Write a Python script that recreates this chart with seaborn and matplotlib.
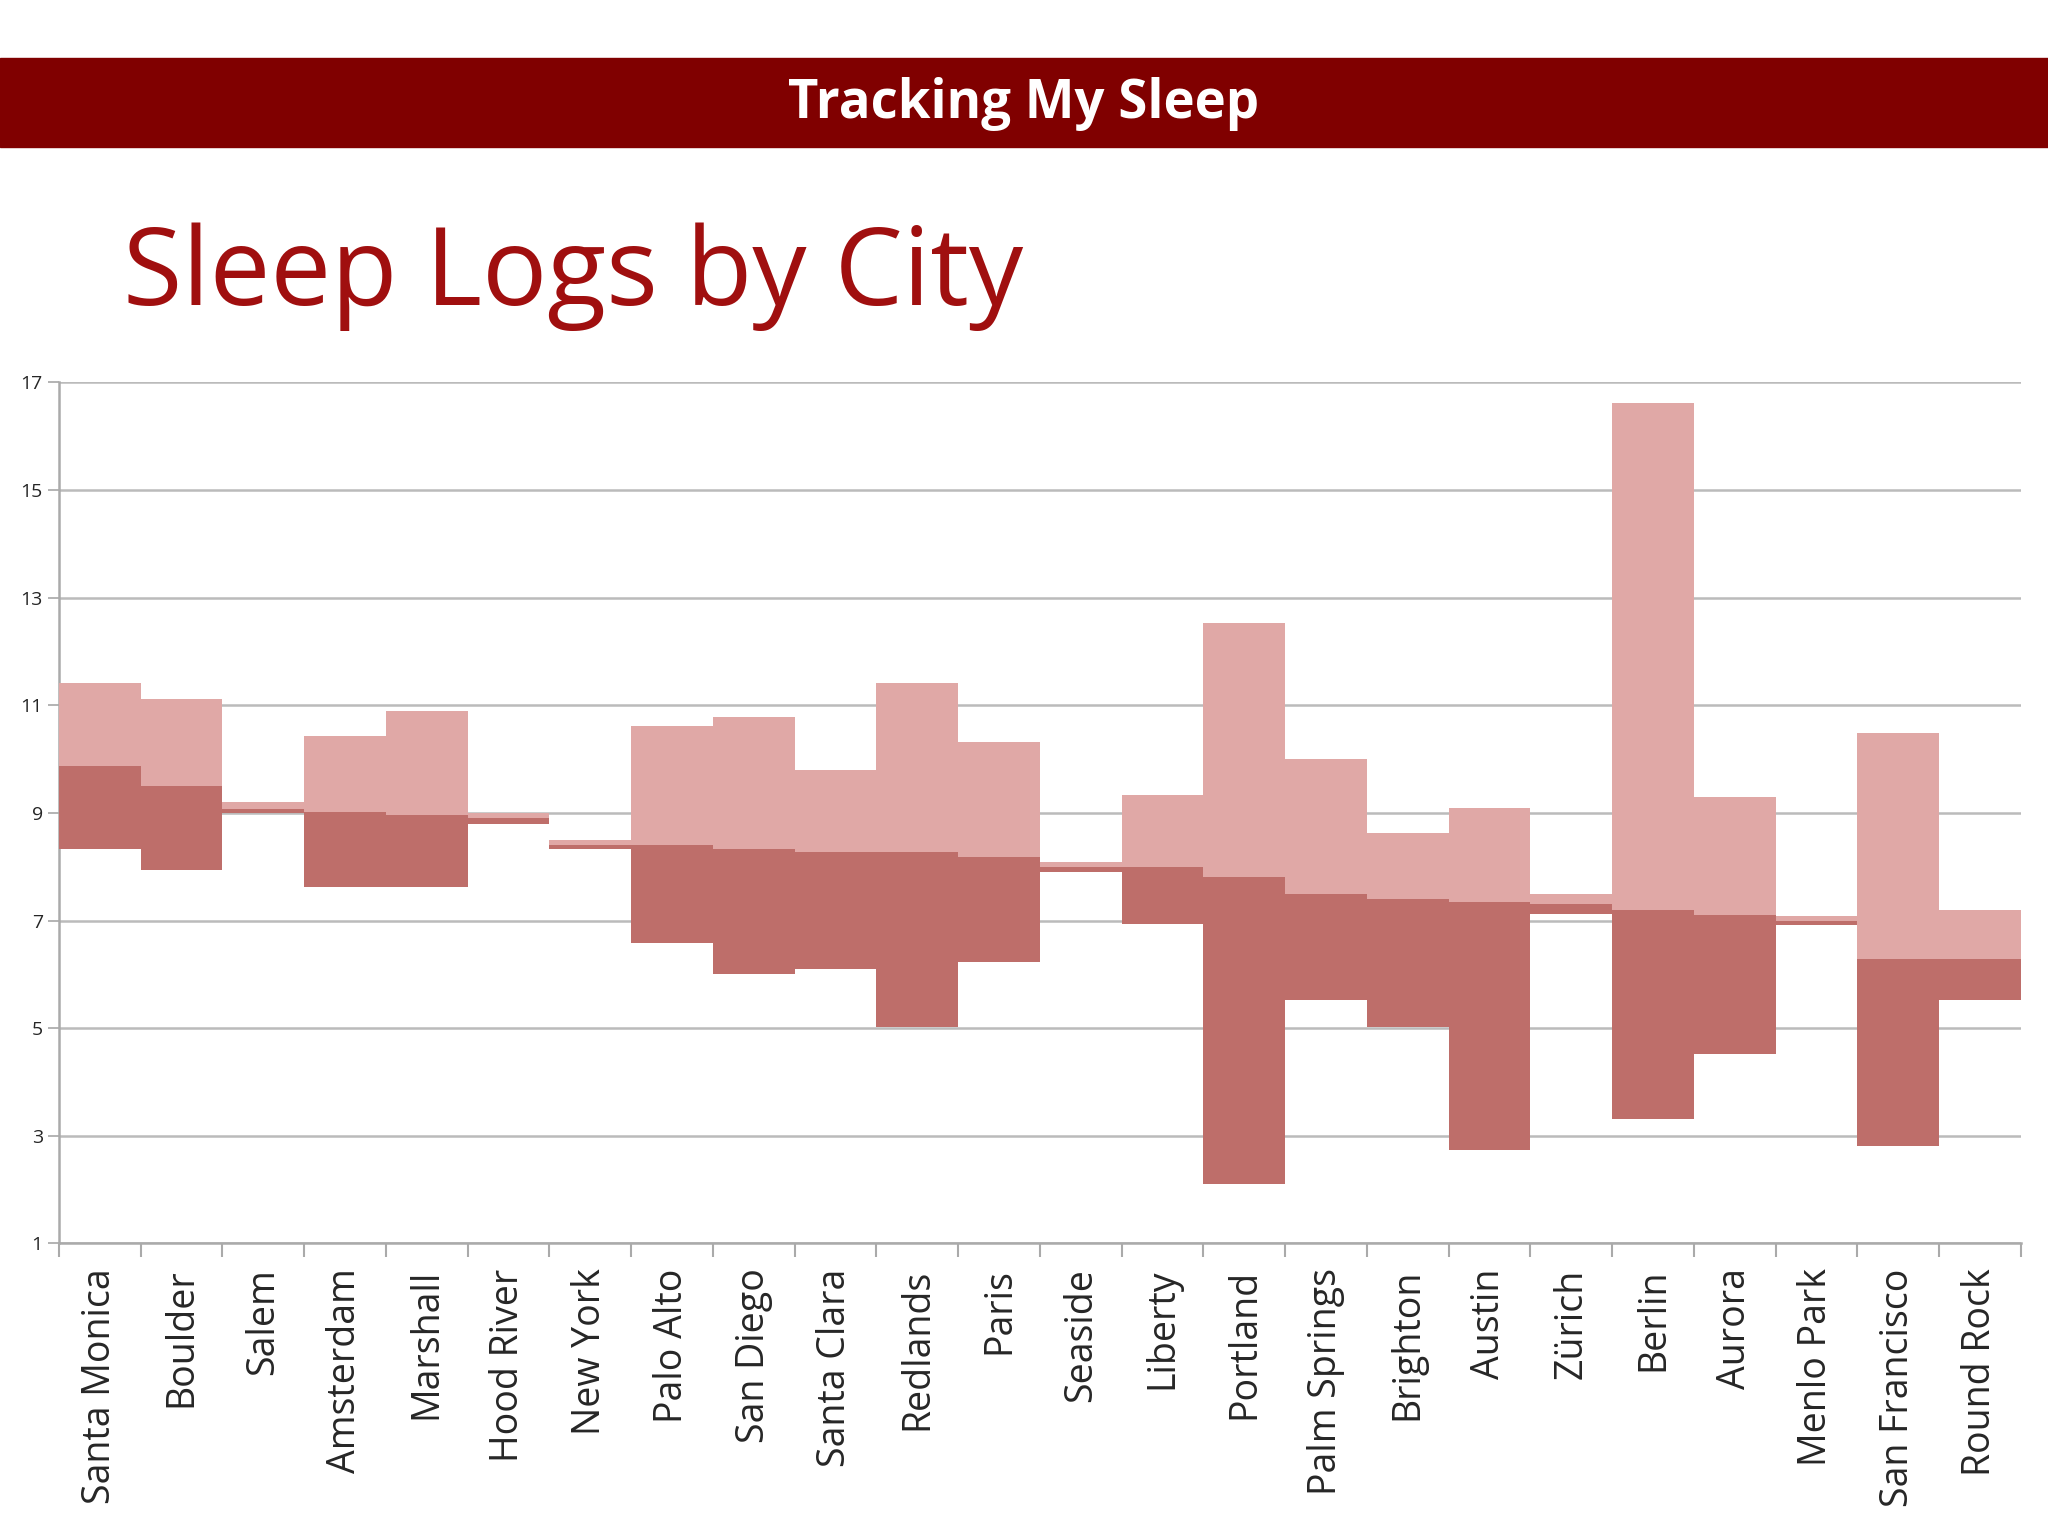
import matplotlib
matplotlib.use("Agg")
import matplotlib.pyplot as plt
import seaborn as sns
import numpy as np

cities = ["Santa Monica","Boulder","Salem","Amsterdam","Marshall","Hood River","New York",
          "Palo Alto","San Diego","Santa Clara","Redlands","Paris","Seaside","Liberty","Portland",
          "Palm Springs","Brighton","Austin","Zürich","Berlin","Aurora","Menlo Park","San Francisco","Round Rock"]
low  = [8.33,7.94,9.0,7.62,7.62,8.8,8.33,6.59,6.01,6.10,5.03,6.23,7.9,6.94,2.10,5.52,5.03,2.73,7.13,3.32,4.52,6.91,2.81,5.52]
mid  = [9.87,9.50,9.08,9.01,8.96,8.9,8.4,8.40,8.33,8.28,8.28,8.18,8.0,7.99,7.81,7.50,7.40,7.35,7.3,7.20,7.11,7.0,6.28,6.28]
high = [11.41,11.11,9.21,10.43,10.89,9.0,8.5,10.62,10.79,9.79,11.41,10.31,8.08,9.33,12.53,10.01,8.62,9.09,7.5,16.61,9.30,7.08,10.48,7.20]
yticks = [1,3,5,7,9,11,13,15,17]

sns.set_theme(style="white")
plt.rcParams['font.family'] = ['Open Sans', 'DejaVu Sans']

fig = plt.figure(figsize=(20.48,15.36), dpi=100)
fig.patch.set_facecolor("white")
fig.patches.append(plt.Rectangle((0,1-0.096),1,0.058,transform=fig.transFigure,color="#800000",zorder=0))
fig.text(0.5,1-0.068,"Tracking My Sleep",color="white",fontsize=38,fontweight="bold",ha="center",va="center")
fig.text(0.06,0.82,"Sleep Logs by City",color="#A00F0F",fontsize=78,ha="left",va="center")

ax = fig.add_axes([0.0287,0.1905,0.958,0.5605])
x = np.arange(len(cities))
lo, mi, hi = map(np.array,(low,mid,high))
ax.bar(x, mi-lo, bottom=lo, width=1.0, color="#BE6E6A", linewidth=0, zorder=3)
ax.bar(x, hi-mi, bottom=mi, width=1.0, color="#E0A8A6", linewidth=0, zorder=3)
ax.set_xlim(-0.5,len(cities)-0.5)
ax.set_ylim(1,17)
ax.set_yticks(yticks)
ax.set_yticklabels([str(v) for v in yticks], fontsize=14)
ax.yaxis.grid(True, color="#BBBBBB", linewidth=1.8, zorder=0)
ax.set_xticks(x)
ax.set_xticklabels(cities, rotation=90, fontsize=27)
ax.set_xticks(np.arange(len(cities)+1)-0.5, minor=True)
ax.tick_params(axis='x', which='major', length=0, pad=18)
ax.tick_params(axis='x', which='minor', length=10, color="#AAAAAA", width=1.5, bottom=True)
ax.tick_params(axis='y', length=8, color="#AAAAAA", left=True)
for s in ["top","right"]:
    ax.spines[s].set_visible(False)
for s in ["left","bottom"]:
    ax.spines[s].set_color("#AAAAAA"); ax.spines[s].set_linewidth(1.8)
fig.savefig("out.png", dpi=100)
